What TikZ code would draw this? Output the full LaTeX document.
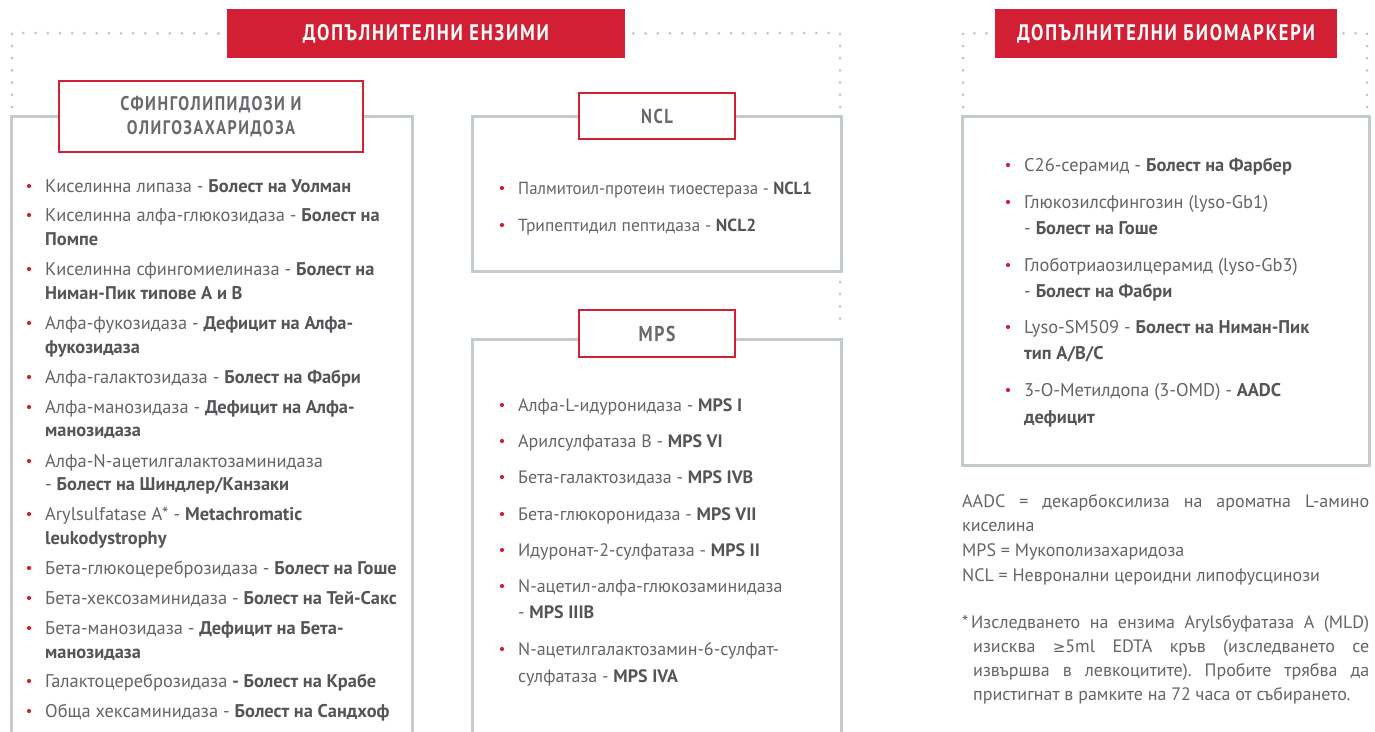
\documentclass[tikz,border=0pt]{standalone}
\usepackage{fontspec}
\usepackage{graphicx}
\setmainfont{PT Sans}
\newfontfamily\headfont[FakeStretch=0.82,LetterSpace=8]{PT Sans}
\newfontfamily\symfont{DejaVu Sans}
\definecolor{bred}{HTML}{D31F34}
\definecolor{framec}{HTML}{C3CBCB}
\definecolor{dotc}{HTML}{BEC6C6}
\definecolor{txt}{HTML}{646568}
\definecolor{txtb}{HTML}{545558}
\definecolor{labc}{HTML}{68696C}
\frenchspacing
\newcommand\bodyfont{\fontsize{18.4pt}{24pt}\selectfont}
\newcommand\B[1]{{\bfseries\color{txtb}#1}}
\newcommand\hdr[2]{\resizebox{#1pt}{!}{\headfont\bfseries #2}}
\newcommand\bul[4]{%
  \fill[bred] (#2-16,#3) circle[radius=2.1pt];
  \node[itemtext] (#1) at (#2,#3+6.5) {#4};}
\newcommand\cont[4]{\node[itemtext] (#1) at (#2,#3+6.5) {#4};}
\tikzset{
  dotline/.style={draw=dotc, line width=3pt, line cap=round, dash pattern=on 0pt off 12.2pt},
  framebox/.style={draw=framec, line width=3pt},
  banner/.style={fill=bred, text=white, inner sep=0pt, minimum height=49pt},
  labelbox/.style={draw=bred, line width=1.6pt, fill=white, text=labc, inner sep=0pt, align=center},
  itemtext/.style={anchor=base west, inner sep=0pt, text=txt, font=\bodyfont},
}
\begin{document}
\begin{tikzpicture}[x=1pt,y=-1pt]
\useasboundingbox (0,0) rectangle (1375,731);
\fill[white] (0,0) rectangle (1375,731);

% banners
\node[banner, minimum width=398pt] (hEnz) at (426,33.5) {\hdr{246}{ДОПЪЛНИТЕЛНИ ЕНЗИМИ}};
\node[banner, minimum width=342pt] (hBio) at (1166,33.5) {\hdr{298}{ДОПЪЛНИТЕЛНИ БИОМАРКЕРИ}};

% dotted connectors
\coordinate (dL) at (12,107);
\coordinate (dR) at (840,107);
\draw[dotline] (dL) -- (12,33) -- (hEnz.west);
\draw[dotline] (dR) -- (840,33) -- (hEnz.east);
\coordinate (bL) at (963,107);
\coordinate (bR) at (1367,107);
\draw[dotline] (bL) -- (963,33) -- (hBio.west);
\draw[dotline] (bR) -- (1367,33) -- (hBio.east);
\coordinate (nclB) at (840,282);
\coordinate (mpsT) at (840,326);
\draw[dotline] (nclB) -- (mpsT);

% frames
\draw[framebox] (11,745) -- (11,116.7) -- (412,116.7) -- (412,745);
\draw[framebox] (472,116.7) rectangle (841,271.5);
\draw[framebox] (472,745) -- (472,339) -- (841,339) -- (841,745);
\draw[framebox] (962.5,116.7) rectangle (1369.5,465);

% label boxes
\node[labelbox, minimum width=304pt, minimum height=71pt] (lSph) at (211,116.5)
  {\hdr{181}{СФИНГОЛИПИДОЗИ И}\\[6pt]\hdr{168}{ОЛИГОЗАХАРИДОЗА}};
\node[labelbox, minimum width=156pt, minimum height=46pt] (lNCL) at (657,116) {\hdr{32}{NCL}};
\node[labelbox, minimum width=156pt, minimum height=47pt] (lMPS) at (657,333.5) {\hdr{37}{MPS}};

% left items
\bul{l1}{45}{186}{Киселинна липаза - \B{Болест на Уолман}}
\bul{l2}{45}{215}{Киселинна алфа-глюкозидаза - \B{Болест на}}
\cont{l2b}{45}{239}{\B{Помпе}}
\bul{l3}{45}{269}{Киселинна сфингомиелиназа - \B{Болест на}}
\cont{l3b}{45}{293}{\B{Ниман-Пик типове А и В}}
\bul{l4}{45}{323}{Алфа-фукозидаза - \B{Дефицит на Алфа-}}
\cont{l4b}{45}{347}{\B{фукозидаза}}
\bul{l5}{45}{377}{Алфа-галактозидаза - \B{Болест на Фабри}}
\bul{l6}{45}{407}{Алфа-манозидаза - \B{Дефицит на Алфа-}}
\cont{l6b}{45}{430}{\B{манозидаза}}
\bul{l7}{45}{461}{Алфа-N-ацетилгалактозаминидаза}
\cont{l7b}{45}{484}{- \B{Болест на Шиндлер/Канзаки}}
\bul{l8}{45}{514}{Arylsulfatase A* - \B{Metachromatic}}
\cont{l8b}{45}{538}{\B{leukodystrophy}}
\bul{l9}{45}{568}{Бета-глюкоцереброзидаза - \B{Болест на Гоше}}
\bul{l10}{45}{598}{Бета-хексозаминидаза - \B{Болест на Тей-Сакс}}
\bul{l11}{45}{628}{Бета-манозидаза - \B{Дефицит на Бета-}}
\cont{l11b}{45}{652}{\B{манозидаза}}
\bul{l12}{45}{681}{Галактоцереброзидаза \B{- Болест на Крабе}}
\bul{l13}{45}{711}{Обща хексаминидаза - \B{Болест на Сандхоф}}

% NCL items
\begin{scope}[itemtext/.append style={font=\fontsize{17.5pt}{24pt}\selectfont}]
\bul{n1}{518}{188}{\scalebox{0.96}[1]{Палмитоил-протеин тиоестераза - \B{NCL1}}}
\bul{n2}{518}{225}{Трипептидил пептидаза - \B{NCL2}}
\end{scope}

% MPS items
\begin{scope}[itemtext/.append style={font=\fontsize{18pt}{24pt}\selectfont}]
\bul{m1}{518}{405}{Алфа-L-идуронидаза - \B{MPS I}}
\bul{m2}{518}{441}{Арилсулфатаза B - \B{MPS VI}}
\bul{m3}{518}{477}{Бета-галактозидаза - \B{MPS IVB}}
\bul{m4}{518}{514}{Бета-глюкоронидаза - \B{MPS VII}}
\bul{m5}{518}{550}{Идуронат-2-сулфатаза - \B{MPS II}}
\bul{m6}{518}{586}{N-ацетил-алфа-глюкозаминидаза}
\cont{m6b}{518}{612}{- \B{MPS IIIB}}
\bul{m7}{518}{649}{N-ацетилгалактозамин-6-сулфат-}
\cont{m7b}{518}{676}{сулфатаза - \B{MPS IVA}}
\end{scope}

% biomarker items
\bul{r1}{1024}{165}{С26-серамид - \B{Болест на Фарбер}}
\bul{r2}{1024}{202}{Глюкозилсфингозин (lyso-Gb1)}
\cont{r2b}{1024}{228}{- \B{Болест на Гоше}}
\bul{r3}{1024}{265}{Глоботриаозилцерамид (lyso-Gb3)}
\cont{r3b}{1024}{291}{- \B{Болест на Фабри}}
\bul{r4}{1024}{327}{Lyso-SM509 - \B{Болест на Ниман-Пик}}
\cont{r4b}{1024}{353}{\B{тип А/В/С}}
\bul{r5}{1024}{390}{3-O-Метилдопа (3-OMD) - \B{AADC}}
\cont{r5b}{1024}{417}{\B{дефицит}}

% notes
\begin{scope}[itemtext/.append style={font=\fontsize{18pt}{24pt}\selectfont}]
\cont{f1}{962}{501}{\makebox[407pt][s]{AADC = декарбоксилиза на ароматна L-амино}}
\cont{f2}{962}{525}{киселина}
\cont{f3}{962}{550}{MPS = Мукополизахаридоза}
\cont{f4}{962}{575}{NCL = Невронални цероидни липофусцинози}
\cont{f5s}{962}{622}{*}
\cont{f5}{971}{622}{\makebox[398pt][s]{Изследването на ензима Arylsбуфатаза A (MLD)}}
\cont{f6}{973}{646}{\makebox[396pt][s]{изисква {\symfont\fontsize{15pt}{15pt}\selectfont ≥}5ml EDTA кръв (изследването се}}
\cont{f7}{973}{670}{\makebox[396pt][s]{извършва в левкоцитите). Пробите трябва да}}
\cont{f8}{973}{694}{пристигнат в рамките на 72 часа от събирането.}
\end{scope}
\end{tikzpicture}
\end{document}
